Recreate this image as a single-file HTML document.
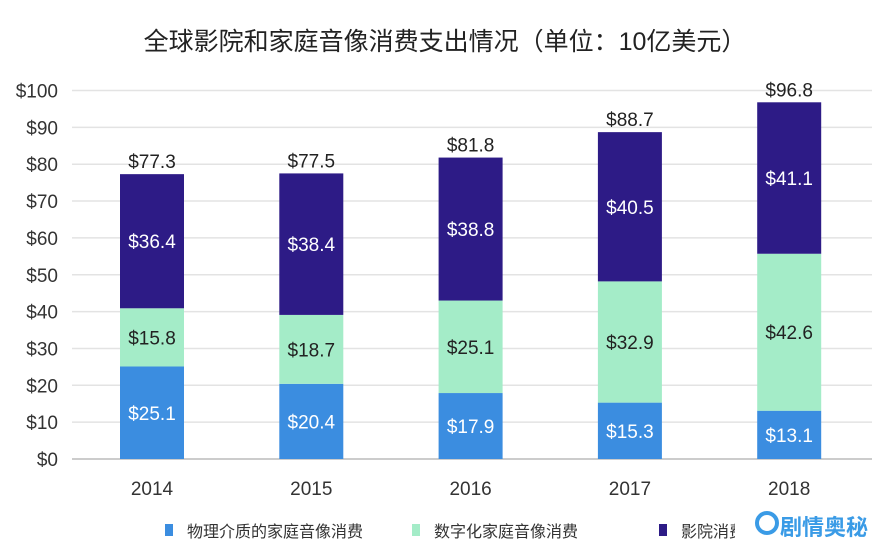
<!DOCTYPE html>
<html><head><meta charset="utf-8"><style>
body{margin:0;background:#fff;width:889px;height:553px;overflow:hidden}
text{font-family:"Liberation Sans","Noto Sans CJK SC",sans-serif}
</style></head><body>
<svg id="s" width="889" height="553" xmlns="http://www.w3.org/2000/svg">
<text x="445" y="50" font-size="25" text-anchor="middle" fill="#222">全球影院和家庭音像消费支出情况（单位：10亿美元）</text>
</svg>
<script>
const s=document.getElementById('s');const NS='http://www.w3.org/2000/svg';
function el(t,a,txt){const e=document.createElementNS(NS,t);for(const k in a)e.setAttribute(k,a[k]);if(txt!=null)e.textContent=txt;s.appendChild(e);return e;}
const y0=459,k=3.685;
for(let v=0;v<=100;v+=10){const y=y0-v*k;
 el('line',{x1:72,x2:872,y1:y,y2:y,stroke:v?'#e3e3e3':'#bbb','stroke-width':v?1.5:1.5});
 el('text',{x:58,y:y+7,'font-size':19,'text-anchor':'end',fill:'#333'},'$'+v);}
const d=[[2014,25.1,15.8,36.4,77.3],[2015,20.4,18.7,38.4,77.5],[2016,17.9,25.1,38.8,81.8],[2017,15.3,32.9,40.5,88.7],[2018,13.1,42.6,41.1,96.8]];
const cols=['#3b8de0','#a4ecc8','#2d1b86'],tc=['#fff','#222','#fff'];
d.forEach((r,i)=>{const cx=152+i*159.3,w=64;let base=0;
 for(let j=0;j<3;j++){const v=r[j+1];const yt=y0-(base+v)*k,h=v*k;
  el('rect',{x:cx-w/2,y:yt,width:w,height:h,fill:cols[j]});
  el('text',{x:cx,y:yt+h/2+7,'font-size':19,'text-anchor':'middle',fill:tc[j]},'$'+v.toFixed(1));
  base+=v;}
 el('text',{x:cx,y:y0-r[4]*k-6,'font-size':19,'text-anchor':'middle',fill:'#222'},'$'+r[4].toFixed(1));
 el('text',{x:cx,y:495,'font-size':19,'text-anchor':'middle',fill:'#333'},r[0]);
});
const lg=[[95,'物理介质的家庭音像消费'],[245,'数字化家庭音像消费'],[390,'影院消费']];
el('rect',{x:165,y:524,width:8,height:12,fill:cols[0]});
el('text',{x:187,y:537,'font-size':16,fill:'#333'},'物理介质的家庭音像消费');
el('rect',{x:412,y:524,width:8,height:12,fill:cols[1]});
el('text',{x:434,y:537,'font-size':16,fill:'#333'},'数字化家庭音像消费');
el('rect',{x:659,y:524,width:8,height:12,fill:cols[2]});
el('text',{x:681,y:537,'font-size':16,fill:'#333'},'影院消费');
el('rect',{x:735,y:505,width:154,height:48,fill:'#fff'});
el('circle',{cx:767,cy:523,r:10,fill:'none',stroke:'#3a9be6','stroke-width':4});
el('text',{x:780,y:535,'font-size':22,'font-weight':'bold',fill:'#3a9be6'},'剧情奥秘');
</script>
</body></html>
